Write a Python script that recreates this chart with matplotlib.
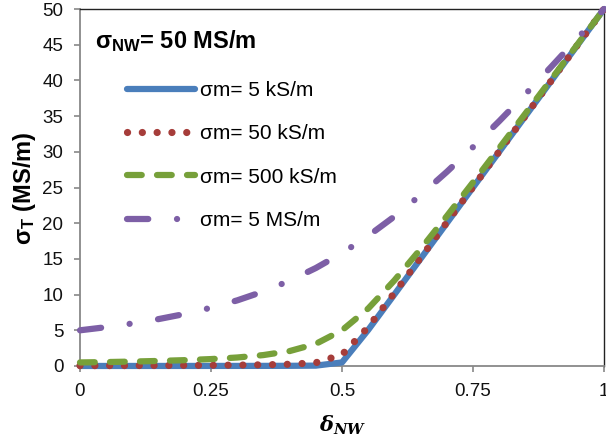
import matplotlib
matplotlib.use("Agg")
import matplotlib.pyplot as plt

plt.rcParams['font.family'] = ['Liberation Sans', 'DejaVu Sans']
plt.rcParams['mathtext.fontset'] = 'custom'
plt.rcParams['mathtext.rm'] = 'Liberation Sans'
plt.rcParams['mathtext.bf'] = 'Liberation Sans:bold'
plt.rcParams['mathtext.it'] = 'DejaVu Serif:italic:bold'

# ---- data ----
delta = [0.00, 0.05, 0.10, 0.15, 0.20, 0.25, 0.30, 0.35, 0.40, 0.45, 0.50,
         0.55, 0.60, 0.65, 0.70, 0.75, 0.80, 0.85, 0.90, 0.95, 1.00]
sig_5k = [0.005, 0.0056, 0.0063, 0.0071, 0.0083, 0.010, 0.0125, 0.0167, 0.025, 0.050, 0.50,
          5.05, 10.02, 15.02, 20.01, 25.01, 30.00, 35.00, 40.00, 45.00, 50.00]
sig_50k = [0.050, 0.056, 0.063, 0.071, 0.083, 0.100, 0.124, 0.165, 0.244, 0.458, 1.58,
           5.45, 10.23, 15.15, 20.10, 25.07, 30.05, 35.04, 40.02, 45.01, 50.00]
sig_500k = [0.50, 0.55, 0.62, 0.71, 0.82, 0.97, 1.19, 1.53, 2.09, 3.10, 5.00,
            8.05, 11.99, 16.38, 20.99, 25.72, 30.52, 35.36, 40.22, 45.10, 50.00]
sig_5M = [5.00, 5.44, 5.96, 6.57, 7.29, 8.16, 9.19, 10.44, 11.94, 13.72, 15.81,
          18.22, 20.94, 23.94, 27.19, 30.66, 34.29, 38.07, 41.96, 45.94, 50.00]

labels = ['σm= 5 kS/m', 'σm= 50 kS/m', 'σm= 500 kS/m', 'σm= 5 MS/m']
colors = ['#4A7EBB', '#A63D3A', '#77A03A', '#7D5FA6']
xticks = [0, 0.25, 0.5, 0.75, 1]
xticklabels = ['0', '0.25', '0.5', '0.75', '1']
yticks = list(range(0, 51, 5))

W, H = 606, 446
fig = plt.figure(figsize=(W / 100, H / 100), dpi=100)
ax = fig.add_axes([80 / W, (H - 366) / H, (604 - 80) / W, (366 - 9) / H])

lw = 4.5
l1, = ax.plot(delta, sig_5k, color=colors[0], lw=lw, solid_capstyle='round',
              solid_joinstyle='round', label=labels[0], clip_on=False, zorder=3)
l2, = ax.plot(delta, sig_50k, color=colors[1], lw=5.2, dash_capstyle='round',
              label=labels[1], clip_on=False, zorder=4)
l2.set_dashes([0.01, 2.04])
l3, = ax.plot(delta, sig_500k, color=colors[2], lw=lw, dash_capstyle='round',
              label=labels[2], clip_on=False, zorder=5)
l3.set_dashes([2.36, 2.44])
l4, = ax.plot(delta, sig_5M, color=colors[3], lw=lw, dash_capstyle='round',
              label=labels[3], clip_on=False, zorder=6)
l4.set_dashes([3.4, 4.6, 0.01, 4.6])

ax.set_xlim(0, 1)
ax.set_ylim(0, 50)
ax.set_xticks(xticks)
ax.set_xticklabels(xticklabels)
ax.set_yticks(yticks)

for s in ['left', 'bottom']:
    ax.spines[s].set_color('#888888')
    ax.spines[s].set_linewidth(1.3)
for s in ['top', 'right']:
    ax.spines[s].set_color('#222222')
    ax.spines[s].set_linewidth(1.0)
ax.tick_params(axis='both', direction='out', length=4, width=1.2, color='#888888',
               labelsize=13.5, pad=8, labelcolor='#111111')

fig.text(24 / W, 1 - 188 / H, r'$\mathbf{σ_T}$ (MS/m)', rotation=90, fontsize=17,
         fontweight='bold', ha='center', va='center')
fig.text(343 / W, 1 - 425 / H, r'$\delta_{NW}$', fontsize=15, ha='center', va='center')

ax.text((95 - 80) / 524, 1 - (41 - 9) / 357, r'$\mathbf{σ_{NW}}$= 50 MS/m', transform=ax.transAxes,
        fontsize=17, fontweight='bold', ha='left', va='center')

fs = 15
leg = ax.legend(handles=[l1, l2, l3, l4], loc='upper left',
                bbox_to_anchor=((127 - 80) / 524, 1 - (81 - 9) / 357),
                frameon=False, fontsize=fs, handlelength=68 / (fs * 1.389),
                handletextpad=0.25, labelspacing=1.17, borderpad=0, borderaxespad=0)

fig.savefig('out.png', dpi=100)
